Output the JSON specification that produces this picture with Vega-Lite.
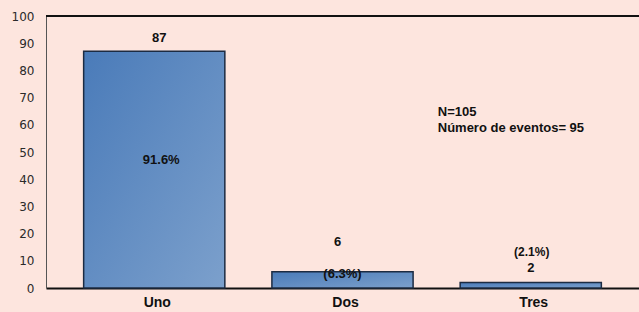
{
  "$schema": "https://vega.github.io/schema/vega-lite/v6.json",
  "width": 593,
  "height": 272,
  "autosize": {"type": "none"},
  "padding": {"left": 46, "top": 16, "right": 0, "bottom": 24},
  "background": "#fde5de",
  "config": {"view": {"stroke": null}},
  "data": {"values": [
    {"cat": "Uno", "value": 87, "pct": "91.6%"},
    {"cat": "Dos", "value": 6, "pct": "(6.3%)"},
    {"cat": "Tres", "value": 2, "pct": "(2.1%)"}
  ]},
  "encoding": {
    "x": {"field": "cat", "type": "nominal", "sort": ["Uno", "Dos", "Tres"],
      "scale": {"paddingInner": 0.25, "paddingOuter": 0.2},
      "axis": {"title": null, "labelAngle": 0, "ticks": false, "domainColor": "#111111", "domainWidth": 2,
        "labelFont": "Liberation Sans", "labelFontWeight": "bold", "labelFontSize": 14, "labelColor": "#111111",
        "labelPadding": 7, "labelOffset": 3}},
    "y": {"field": "value", "type": "quantitative",
      "scale": {"domain": [0, 100], "nice": false},
      "axis": {"title": null, "values": [0,10,20,30,40,50,60,70,80,90,100], "grid": false, "ticks": false,
        "labelOverlap": false, "domainColor": "#555555", "domainWidth": 1, "labelFont": "DejaVu Sans",
        "labelFontSize": 12, "labelColor": "#2a2a2a", "labelPadding": 12}}
  },
  "layer": [
    {
      "mark": {"type": "bar", "stroke": "#1c2b42", "strokeWidth": 1.5,
        "color": {"gradient": "linear", "x1": 0, "y1": 0, "x2": 1, "y2": 1,
          "stops": [{"offset": 0, "color": "#4a7bb9"}, {"offset": 1, "color": "#7ca0cc"}]}}
    },
    {
      "transform": [{"filter": "datum.cat === 'Uno'"}],
      "mark": {"type": "text", "font": "Liberation Sans", "fontWeight": "bold", "fontSize": 13, "color": "#111111", "dx": 5, "dy": -13.4},
      "encoding": {"text": {"field": "value"}}
    },
    {
      "transform": [{"filter": "datum.cat === 'Uno'"}],
      "mark": {"type": "text", "font": "Liberation Sans", "fontWeight": "bold", "fontSize": 13, "color": "#111111", "dx": 7, "dy": 108.6},
      "encoding": {"text": {"field": "pct"}}
    },
    {
      "transform": [{"filter": "datum.cat === 'Dos'"}],
      "mark": {"type": "text", "font": "Liberation Sans", "fontWeight": "bold", "fontSize": 13, "color": "#111111", "dx": -5, "dy": -30},
      "encoding": {"text": {"field": "value"}}
    },
    {
      "transform": [{"filter": "datum.cat === 'Dos'"}],
      "mark": {"type": "text", "font": "Liberation Sans", "fontWeight": "bold", "fontSize": 13, "color": "#111111", "dx": 0, "dy": 2.3},
      "encoding": {"text": {"field": "pct"}}
    },
    {
      "transform": [{"filter": "datum.cat === 'Tres'"}],
      "mark": {"type": "text", "font": "Liberation Sans", "fontWeight": "bold", "fontSize": 12, "color": "#111111", "dx": 1, "dy": -30.3},
      "encoding": {"text": {"field": "pct"}}
    },
    {
      "transform": [{"filter": "datum.cat === 'Tres'"}],
      "mark": {"type": "text", "font": "Liberation Sans", "fontWeight": "bold", "fontSize": 13, "color": "#111111", "dx": 0, "dy": -14.3},
      "encoding": {"text": {"field": "value"}}
    },
    {
      "transform": [{"filter": "datum.cat === 'Tres'"}],
      "mark": {"type": "text", "font": "Liberation Sans", "fontWeight": "bold", "fontSize": 13, "color": "#111111",
        "align": "left", "dx": -93, "dy": -170.4, "lineHeight": 15.5},
      "encoding": {"text": {"value": ["N=105", "Número de eventos= 95"]}}
    },
    {
      "mark": {"type": "rule", "color": "#111111", "strokeWidth": 2},
      "encoding": {"y": {"datum": 100}, "x": {"value": 0}, "x2": {"value": 593}}
    }
  ]
}
